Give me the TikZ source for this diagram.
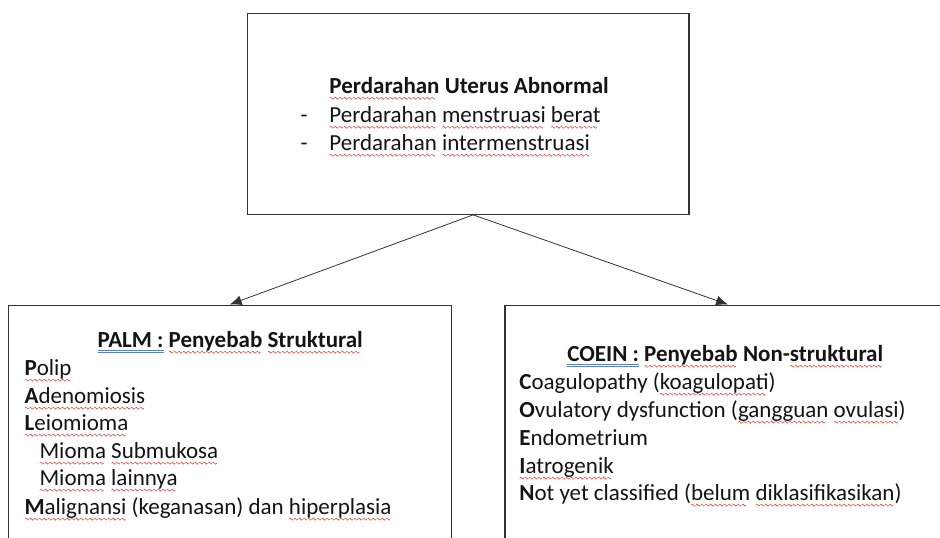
\documentclass[tikz,border=0pt]{standalone}
\usepackage{fontspec}
\setmainfont{Carlito}
\usetikzlibrary{arrows.meta}
\definecolor{wavered}{HTML}{D9534F}
\definecolor{lineblue}{HTML}{5B7FD6}
\definecolor{txt}{HTML}{141414}
\definecolor{frame}{HTML}{333333}
\newsavebox\wavepiece
\newsavebox\wordbox
\newcommand\makewavepiece{\sbox\wavepiece{\begin{pgfpicture}%
\pgfsetcolor{wavered}\pgfsetlinewidth{0.6pt}%
\pgfpathmoveto{\pgfpoint{0pt}{0pt}}%
\pgfpathsine{\pgfpoint{1pt}{1pt}}%
\pgfpathcosine{\pgfpoint{1pt}{-1pt}}%
\pgfpathsine{\pgfpoint{1pt}{-1pt}}%
\pgfpathcosine{\pgfpoint{1pt}{1pt}}%
\pgfusepath{stroke}%
\pgfsetbaseline{0pt}%
\end{pgfpicture}}}
\newcommand\sq[1]{\sbox\wordbox{#1}\rlap{\lower5pt\hbox to\wd\wordbox{\leaders\copy\wavepiece\hfill}}#1}
\newcommand\dl[1]{\sbox\wordbox{#1}\rlap{\textcolor{lineblue}{\rule[-3.5pt]{\wd\wordbox}{0.8pt}}}\rlap{\textcolor{lineblue}{\rule[-6pt]{\wd\wordbox}{0.8pt}}}#1}
\tikzset{
  box/.style={draw=frame, line width=1.3pt, fill=white, inner sep=0pt},
  lbl/.style={inner sep=0pt, anchor=base west, text=txt, font=\fontsize{23}{28}\selectfont},
  arr/.style={draw=frame, line width=0.8pt, -{Latex[length=12pt,width=10pt]}}
}
\begin{document}
\begin{tikzpicture}[x=1pt,y=-1pt]
\makewavepiece
\useasboundingbox (0,0) rectangle (940,536);
\fill[white] (0,0) rectangle (940,536);
\clip (0,0) rectangle (940,536);
% boxes
\node[box, minimum width=442pt, minimum height=201pt] (top) at (468,112.5) {};
\node[box, minimum width=443pt, minimum height=256pt] (left) at (229.5,432) {};
\node[box, minimum width=446pt, minimum height=256pt] (right) at (728,432) {};
% connectors
\draw[arr] ([xshift=5pt]top.south) -- (left.north);
\draw[arr] ([xshift=5pt]top.south) -- (right.north);
% top text
\node[lbl] (t0) at (329,92) {\textbf{\sq{Perdarahan} Uterus Abnormal}};
\node[lbl] (b1) at (300,121) {-};
\node[lbl] (t1) at (329,121) {\sq{Perdarahan} \sq{menstruasi} \sq{berat}};
\node[lbl] (b2) at (300,149) {-};
\node[lbl] (t2) at (329,149) {\sq{Perdarahan} \sq{intermenstruasi}};
% left text
\node[lbl] (l0) at (97,346) {\textbf{\dl{PALM :} \sq{Penyebab} \sq{Struktural}}};
\node[lbl] (l1) at (24,374) {\sq{\textbf{P}olip}};
\node[lbl] (l2) at (24,402) {\sq{\textbf{A}denomiosis}};
\node[lbl] (l3) at (24,429) {\sq{\textbf{L}eiomioma}};
\node[lbl] (l4) at (39,457) {\sq{Mioma} \sq{Submukosa}};
\node[lbl] (l5) at (39,484) {\sq{Mioma} \sq{lainnya}};
\node[lbl] (l6) at (24,513) {\sq{\textbf{M}alignansi} (keganasan) dan \sq{hiperplasia}};
% right text
\node[lbl] (r0) at (567,360) {\textbf{\dl{COEIN :} \sq{Penyebab} Non-\sq{struktural}}};
\node[lbl] (r1) at (519,388) {\textbf{C}oagulopathy (\sq{koagulopati})};
\node[lbl] (r2) at (519,416) {\textbf{O}vulatory dysfunction (\sq{gangguan} \sq{ovulasi})};
\node[lbl] (r3) at (519,444) {\textbf{E}ndometrium};
\node[lbl] (r4) at (519,472) {\sq{\textbf{I}atrogenik}};
\node[lbl] (r5) at (519,499) {\textbf{N}ot yet classified (\sq{belum} \sq{diklasifikasikan})};
\end{tikzpicture}
\end{document}
